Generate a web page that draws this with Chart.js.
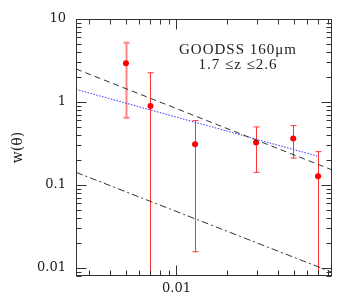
<!DOCTYPE html>
<html>
<head>
<meta charset="utf-8">
<script src="https://cdn.jsdelivr.net/npm/chart.js@4/dist/chart.umd.min.js"></script>
<style>
  html, body { margin: 0; padding: 0; background: #fff; }
  canvas { display: block; }
</style>
</head>
<body>
<canvas id="wtheta" width="351" height="303"></canvas>
<script>
// measured w(theta) points with error bars
const theta = [0.0050, 0.0070, 0.0129, 0.0298, 0.0496, 0.0697];
const w     = [2.93, 0.895, 0.309, 0.324, 0.364, 0.127];
const wHigh = [5.17, 2.25, 0.596, 0.50, 0.519, 0.252];
const wLow  = [0.647, 0.001, 0.0157, 0.142, 0.211, 0.001];

// power-law fit (blue dotted)
const fitTheta = [0.00252, 0.069];
const fitW     = [1.42, 0.223];

// model curves (black dashed / dash-dot)
const upperTheta = [0.00252, 0.0844];
const upperW     = [2.50, 0.152];
const lowerTheta = [0.00252, 0.0844];
const lowerW     = [0.142, 0.0089];

// axes
const xMin = 0.00252, xMax = 0.0844;
const yMin = 0.008, yMax = 10;
const xTickValues = [0.01];
const xTickLabels = ['0.01'];
const yTickValues = [0.01, 0.1, 1, 10];
const yTickLabels = ['0.01', '0.1', '1', '10'];

const annotationLines = ['GOODSS 160\u03bcm', '1.7 \u2264z \u22642.6'];

const pts = (xs, ys) => xs.map((x, i) => ({x: x, y: ys[i]}));
const serif = '"DejaVu Serif", "Liberation Serif", serif';

const errorBars = {
  id: 'errorBars',
  beforeDatasetsDraw(chart) {
    const ctx = chart.ctx, a = chart.chartArea;
    const xs = chart.scales.x, ys = chart.scales.y;
    ctx.save();
    ctx.beginPath();
    ctx.rect(a.left, a.top, a.right - a.left, a.bottom - a.top);
    ctx.clip();
    for (let i = 0; i < theta.length; i++) {
      const px = Math.round(xs.getPixelForValue(theta[i])) + 0.5;
      const top = ys.getPixelForValue(wHigh[i]);
      const bot = ys.getPixelForValue(wLow[i]);
      ctx.strokeStyle = i === 0 ? 'rgba(255,90,90,0.75)' : 'rgba(255,30,30,0.9)';
      ctx.lineWidth = i === 0 ? 2 : 1;
      ctx.beginPath();
      ctx.moveTo(px, top); ctx.lineTo(px, bot);
      ctx.moveTo(px - 3, top); ctx.lineTo(px + 3, top);
      ctx.moveTo(px - 3, bot); ctx.lineTo(px + 3, bot);
      ctx.stroke();
    }
    ctx.restore();
  }
};

const frame = {
  id: 'frame',
  afterDatasetsDraw(chart) {
    const ctx = chart.ctx, a = chart.chartArea;
    const xs = chart.scales.x, ys = chart.scales.y;
    const L = Math.round(a.left) + 0.5, R = Math.round(a.right) - 0.5;
    const T = Math.round(a.top) + 0.5, B = Math.round(a.bottom) - 0.5;
    ctx.save();
    ctx.strokeStyle = '#333';
    ctx.lineWidth = 1;
    ctx.strokeRect(L, T, R - L, B - T);
    ctx.beginPath();
    for (let e = -3; e <= -1; e++) {
      for (let m = 1; m <= 9; m++) {
        const v = m * Math.pow(10, e);
        if (v < xMin || v > xMax) continue;
        const p = Math.round(xs.getPixelForValue(v)) + 0.5;
        const len = m === 1 ? 10 : 5;
        ctx.moveTo(p, B); ctx.lineTo(p, B - len);
        ctx.moveTo(p, T); ctx.lineTo(p, T + len);
      }
    }
    for (let e = -3; e <= 1; e++) {
      for (let m = 1; m <= 9; m++) {
        const v = m * Math.pow(10, e);
        if (v < yMin || v > yMax) continue;
        const p = Math.round(ys.getPixelForValue(v)) + 0.5;
        const len = m === 1 ? 10 : 5;
        ctx.moveTo(L, p); ctx.lineTo(L + len, p);
        ctx.moveTo(R, p); ctx.lineTo(R - len, p);
      }
    }
    ctx.stroke();

    ctx.fillStyle = '#222';
    ctx.font = '15px "Liberation Serif", "DejaVu Serif", serif';
    ctx.letterSpacing = '1px';
    ctx.textAlign = 'center';
    ctx.textBaseline = 'middle';
    const cx = a.left + 162;
    ctx.fillText(annotationLines[0], cx, a.top + 31);
    ctx.fillText(annotationLines[1], cx, a.top + 46);
    ctx.restore();
  }
};

new Chart(document.getElementById('wtheta'), {
  type: 'scatter',
  data: {
    datasets: [
      {data: pts(upperTheta, upperW), showLine: true, pointRadius: 0,
       borderColor: '#333', borderWidth: 1, borderDash: [6, 4]},
      {data: pts(lowerTheta, lowerW), showLine: true, pointRadius: 0,
       borderColor: '#333', borderWidth: 1, borderDash: [7, 3, 2, 3]},
      {data: pts(fitTheta, fitW), showLine: true, pointRadius: 0,
       borderColor: 'rgb(50,50,255)', borderWidth: 1, borderDash: [1.5, 1.5]},
      {data: pts(theta, w), pointRadius: 3, pointBorderWidth: 0,
       backgroundColor: 'rgb(255,0,0)', borderColor: 'rgb(255,0,0)'}
    ]
  },
  options: {
    responsive: false,
    animation: false,
    layout: {padding: {top: 19, right: 19, left: 0, bottom: 0}},
    plugins: {legend: {display: false}, tooltip: {enabled: false}},
    scales: {
      x: {
        type: 'logarithmic', min: xMin, max: xMax,
        grid: {display: false, drawTicks: false},
        border: {display: false},
        afterBuildTicks: s => { s.ticks = xTickValues.map(v => ({value: v})); },
        afterFit: s => { s.height = 27; },
        ticks: {
          autoSkip: false, maxRotation: 0, padding: 5, color: '#222',
          font: {family: serif, size: 13},
          callback: v => xTickLabels[xTickValues.indexOf(v)]
        }
      },
      y: {
        type: 'logarithmic', min: yMin, max: yMax,
        grid: {display: false, drawTicks: false},
        border: {display: false},
        afterBuildTicks: s => { s.ticks = yTickValues.map(v => ({value: v})); },
        afterFit: s => { s.width = 76; },
        title: {display: true, text: 'w(\u03b8)', color: '#222',
                font: {family: serif, size: 14}, padding: {top: 10, bottom: 0}},
        ticks: {
          autoSkip: false, padding: 10, color: '#222',
          font: {family: serif, size: 13},
          callback: v => yTickLabels[yTickValues.indexOf(v)]
        }
      }
    }
  },
  plugins: [errorBars, frame]
});
</script>
</body>
</html>
